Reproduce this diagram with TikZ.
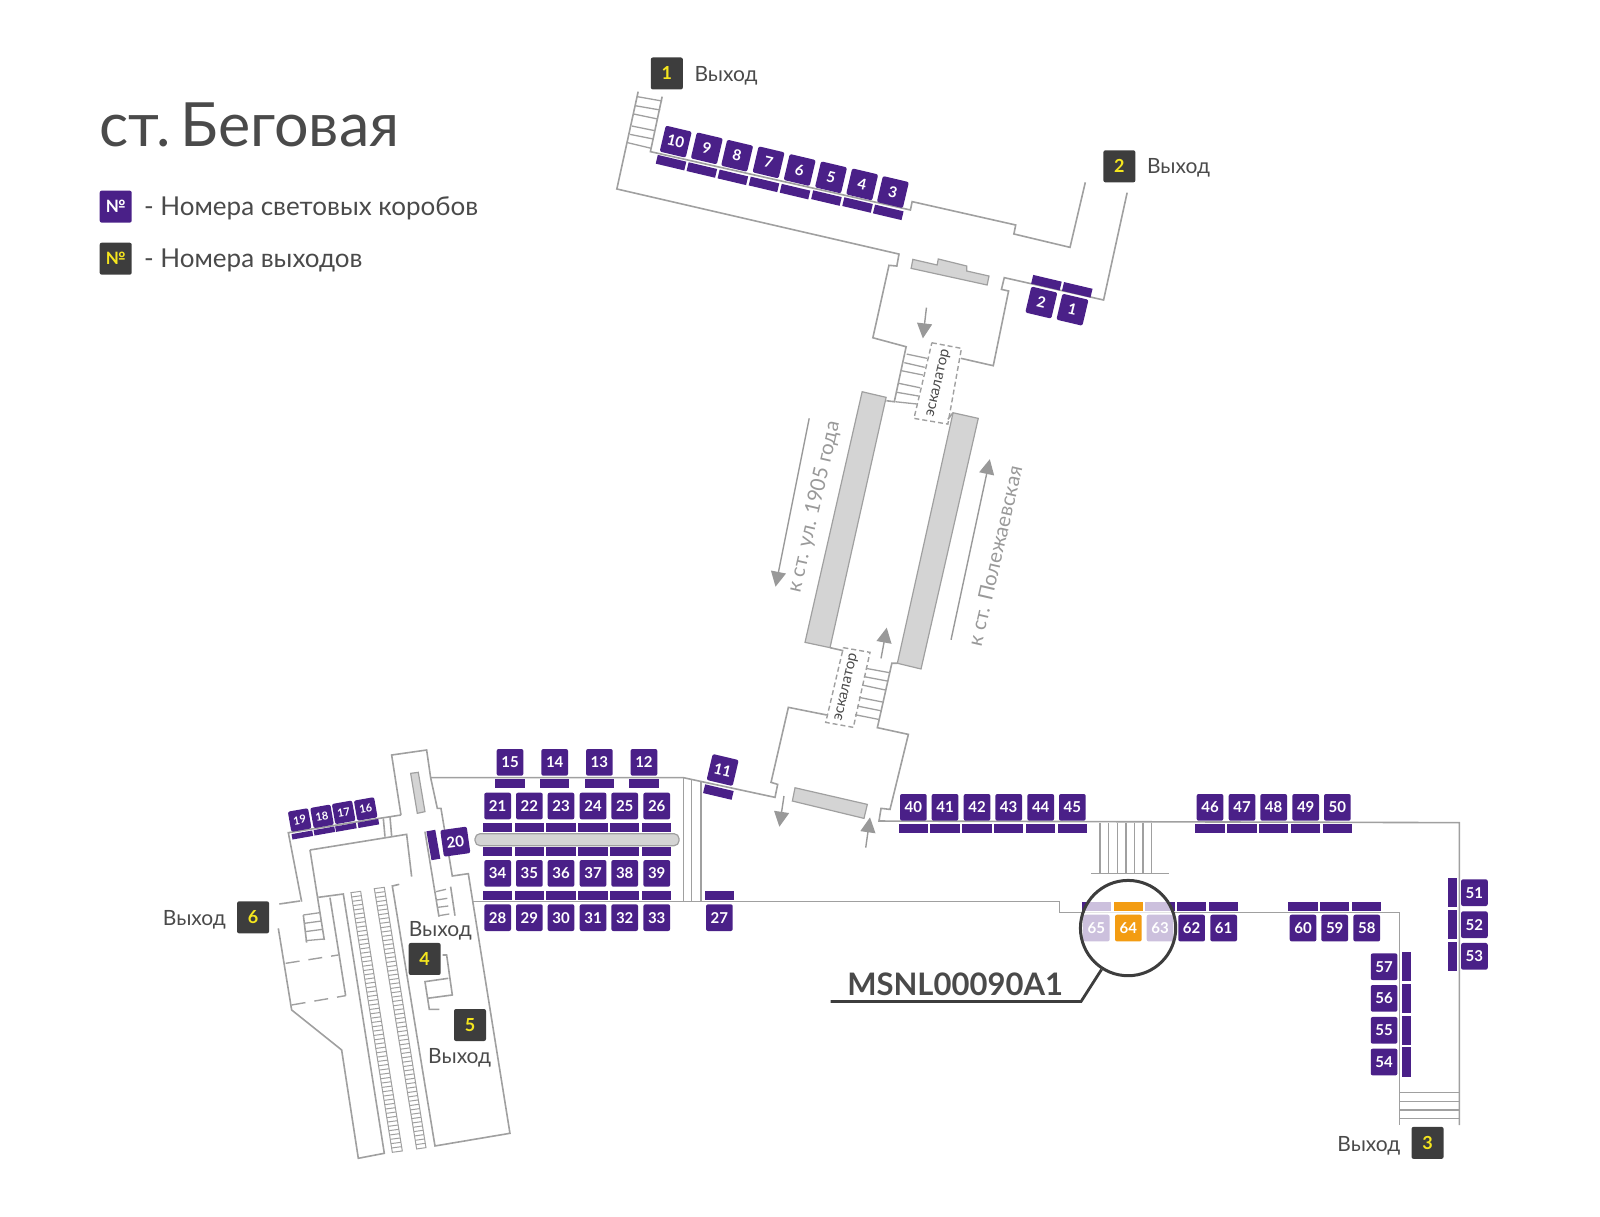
\documentclass[tikz,border=0pt]{standalone}
\usepackage{fontspec}
\setmainfont{Lato}
\usetikzlibrary{arrows.meta,calc}
\definecolor{boxpurple}{HTML}{4A2088}
\definecolor{boxorange}{HTML}{F39C12}
\definecolor{exitdark}{HTML}{3D3D3D}
\definecolor{exityellow}{HTML}{F5E61E}
\definecolor{wallgray}{HTML}{A0A0A0}
\definecolor{pillargray}{HTML}{D4D4D4}
\definecolor{labelgray}{HTML}{999999}
\definecolor{textgray}{HTML}{4A4A4A}
\tikzset{
    wall/.style      = {draw = wallgray, line width = 1.6pt, line join = miter},
    stairline/.style = {draw = wallgray, line width = 1.3pt},
    rung/.style      = {draw = wallgray, line width = 1pt},
    pillar/.style    = {draw = wallgray, fill = pillargray, line width = 1.2pt},
    dashwall/.style  = {draw = wallgray, line width = 1.4pt, dash pattern = on 5pt off 3pt},
    lightbox/.style  = {fill = boxpurple, text = white, rounded corners = 2pt, inner sep = 0pt,
                        minimum width = 26.7pt, minimum height = 26.7pt,
                        font = \fontsize{15}{15}\selectfont\bfseries},
    smallbox/.style  = {lightbox, minimum width = 20.5pt, minimum height = 20.5pt,
                        font = \fontsize{11}{11}\selectfont\bfseries},
    hbar/.style      = {fill = boxpurple, inner sep = 0pt, minimum width = 29.3pt, minimum height = 9pt},
    vbar/.style      = {fill = boxpurple, inner sep = 0pt, minimum width = 9pt, minimum height = 29.3pt},
    exitbox/.style   = {fill = exitdark, text = exityellow, rounded corners = 2pt, inner sep = 0pt,
                        minimum width = 32pt, minimum height = 32pt,
                        font = \fontsize{18}{18}\selectfont\bfseries},
    exitname/.style  = {text = textgray, inner sep = 0pt, font = \fontsize{21}{21}\selectfont},
    legendname/.style= {text = textgray, inner sep = 0pt, anchor = west, font = \fontsize{26}{26}\selectfont},
    dirname/.style   = {text = labelgray, inner sep = 0pt, rotate = 77, font = \fontsize{20.5}{21}\selectfont},
    escname/.style   = {text = textgray, inner sep = 0pt, rotate = 77, font = \fontsize{15}{15}\selectfont},
    dirarrow/.style  = {draw = labelgray, line width = 1.4pt, -{Triangle[length = 15pt, width = 15pt]}}
}
\begin{document}
\begin{tikzpicture}[x = 1.0204pt, y = -1.0204pt]
    \useasboundingbox (0,0) rectangle (1568,1191.7);

    % header
    \node [text = textgray, inner sep = 0pt, anchor = west, font = \fontsize{61}{61}\selectfont] (title) at (97,122) {ст.\kern-6pt\ Беговая};
    \node [exitbox, fill = boxpurple, text = white, font = \fontsize{17}{17}\selectfont\bfseries] (legendbox) at (113.4,202.5) {№};
    \node [exitbox, font = \fontsize{17}{17}\selectfont\bfseries] (legendexit) at (113.4,253.5) {№};
    \node [legendname] (legendboxname) at (141,204.5) {- Номера световых коробов};
    \node [legendname] (legendexitname) at (141,255.5) {- Номера выходов};

    % upper hall
    \draw [wall] (625.4,89.8) -- (604.5,185.2) -- (881,249) -- (878.9,260.7) -- (871.2,260) -- (855.4,331) -- (888,339.8) -- (876.4,393.7) -- (868.7,392.7);
    \draw [wall] (648.9,94.7) -- (637.4,148.6) -- (892.2,205.8) -- (893.9,197.6) -- (995.4,220.5) -- (993.6,229.3) -- (1048.6,242.4) -- (1063.6,178.7);
    \draw [wall] (1104.6,188.8) -- (1081.5,294) -- (984.2,272.1) -- (981.4,283.6) -- (988.4,285.2) -- (973.4,358.4) -- (941.9,351.2);
    \draw [stairline] (624.4,94.7)  -- (648.9,99);
    \draw [stairline] (622.6,103.6) -- (647,107.8);
    \draw [stairline] (620.9,111.7) -- (644.4,116.6);
    \draw [stairline] (619.2,123.5) -- (641.9,128.1);
    \draw [stairline] (617.4,131.7) -- (640.2,136.2);
    \draw [stairline] (615,139.8)   -- (638.4,145.4);
    \draw [pillar] (894.6,254.2) -- (918.4,259.7) -- (919.5,253.8) -- (947.5,260.7) -- (947.5,265.6) -- (969.2,270.5) -- (967.4,279.3) -- (892.9,263) -- cycle;

    % upper escalator
    \draw [stairline] (888.6,347)   -- (908.6,351.2);
    \draw [stairline] (886.2,355.4) -- (906.2,360);
    \draw [stairline] (883.4,363.3) -- (904.4,367.5);
    \draw [stairline] (881,375.7)   -- (901.6,380);
    \draw [stairline] (879.2,384.5) -- (900.2,388.1);
    \draw [stairline] (877.5,393.7) -- (899.2,396);
    \draw [dashwall] (913.2,335.9) -- (942.2,341.4) -- (928.9,415.6) -- (895.7,410) -- cycle;
    \node [escname] (escupper) at (920,375.7) {эскалатор};

    % platform
    \draw [pillar] (844.9,383.9) -- (868.4,389.4) -- (813.4,634.7) -- (788.9,629.5) -- cycle;
    \draw [pillar] (934,404.5) -- (958.7,410) -- (902.6,655.6) -- (879.4,650) -- cycle;
    \draw [wall] (813.4,634.7) -- (826.5,637.7);
    \draw [wall] (928.9,411) -- (934,404.5);

    % lower escalator
    \draw [stairline] (848.7,655)   -- (871.6,659.2);
    \draw [stairline] (846.7,663.1) -- (869.6,667.4);
    \draw [stairline] (844.8,671.3) -- (867.6,676.2);
    \draw [stairline] (841.8,683.4) -- (865,688);
    \draw [stairline] (840.2,691.9) -- (863.1,696.5);
    \draw [stairline] (837.9,700.4) -- (861.1,705);
    \draw [dashwall] (826.5,634.7) -- (852.6,639.3) -- (836.3,712.8) -- (809.2,707.9) -- cycle;
    \node [escname] (esclower) at (829.8,673.6) {эскалатор};

    % lower hall and corridors
    \draw [wall] (879.4,650) -- (874,650) -- (859.8,713.1) -- (890.2,719.7) -- (872.2,793.2) -- (863.4,792.2) -- (861.4,804.6) -- (1430.2,806.2) -- (1430.2,1102.5);
    \draw [wall] (810.2,700.7) -- (772.6,693.2) -- (755.6,766.7) -- (762.1,768.7) -- (759.5,781.4) -- (669.7,762.1) -- (421.4,762.1);
    \draw [wall] (463,883.6) -- (1038.2,883.6) -- (1038.2,894.1) -- (1371.4,894.1) -- (1371.4,1102.5);
    \draw [wall] (669.7,762.1) -- (669.7,883.6);
    \draw [wall] (677.8,764.4) -- (677.8,883.6);
    \draw [wall] (686.7,766.5) -- (686.7,883.6);
    \draw [pillar] (779.1,772) -- (850,788.3) -- (846.7,802) -- (776.5,785) -- cycle;
    \node [pillar, rounded corners = 5pt, inner sep = 0pt, minimum width = 204pt, minimum height = 12pt] (bench) at (565.5,822.9) {};

    % stairs to the street
    \draw [stairline] (1078,806.2)   -- (1078,855.9);
    \draw [stairline] (1086.5,806.2) -- (1086.5,855.9);
    \draw [stairline] (1095,806.2)   -- (1095,855.9);
    \draw [stairline] (1103.5,806.2) -- (1103.5,855.9);
    \draw [stairline] (1112,806.2)   -- (1112,855.9);
    \draw [stairline] (1120.2,806.2) -- (1120.2,855.9);
    \draw [stairline] (1128.6,806.2) -- (1128.6,855.9);
    \draw [stairline] (1069.2,855.9) -- (1146,855.9);
    \draw [stairline] (1371.4,1070.8) -- (1430.2,1070.8);
    \draw [stairline] (1371.4,1079.3) -- (1430.2,1079.3);
    \draw [stairline] (1371.4,1087.8) -- (1430.2,1087.8);
    \draw [stairline] (1371.4,1096.3) -- (1430.2,1096.3);

    % west vestibule, in its own grid
    \begin{scope}[shift = {(137.2,705.6)}, x = 0.3333pt, y = -0.3333pt]
        \draw [wall] (783,285) -- (755,105) -- (860,90) -- (872,173) -- (892,265) -- (903,265) -- (937,468) -- (985,461) -- (1110,1240) -- (885,1278) -- (757,498) -- (778,493);
        \draw [wall] (783,285) -- (445,338) -- (485,545);
        \draw [wall] (490,585) -- (500,668);
        \draw [wall] (418,552) -- (480,543);
        \draw [wall] (510,390) -- (800,343) -- (815,470);
        \draw [wall] (510,390) -- (553,660);
        \draw [wall] (535,532) -- (610,522) -- (733,1300) -- (655,1315) -- (605,990) -- (455,870) -- (415,625);
        \draw [wall] (570,533) -- (617,827);
        \draw [dashwall, dash pattern = on 14pt off 9pt] (437,730) -- (595,705);
        \draw [dashwall, dash pattern = on 14pt off 9pt] (455,855) -- (617,827);
        \draw [wall] (730,295) -- (735,350);
        \draw [wall] (750,290) -- (755,348);
        \draw [stairline] (490,585) -- (540,578);
        \draw [stairline] (493,610) -- (545,603);
        \draw [stairline] (495,635) -- (548,628);
        \draw [stairline] (497,662) -- (553,657);
        \draw [wall] (855,335) -- (897,590);
        \draw [wall] (932,500) -- (945,587);
        \draw [stairline] (888,515) -- (918,508);
        \draw [stairline] (890,540) -- (922,535);
        \draw [stairline] (893,562) -- (925,558);
        \draw [stairline] (897,587) -- (928,582);
        \draw [wall] (908,705) -- (920,705) -- (937,825) -- (862,835);
        \draw [wall] (925,775) -- (855,785) -- (868,868) -- (898,868);
        \draw [pillar] (812,160) -- (835,157) -- (855,275) -- (832,280) -- cycle;
        \coordinate (trackaa) at (633,518);
        \coordinate (trackab) at (662,514);
        \coordinate (trackac) at (757,1297);
        \coordinate (trackad) at (787,1293);
        \coordinate (trackba) at (703,506);
        \coordinate (trackbb) at (733,502);
        \coordinate (trackbc) at (830,1287);
        \coordinate (trackbd) at (858,1283);
        \draw [rung] (trackaa) -- (trackab) -- (trackad) -- (trackac) -- cycle;
        \draw [rung] (trackba) -- (trackbb) -- (trackbd) -- (trackbc) -- cycle;
        \foreach \k in {1,...,59} {
            \draw [rung] ($(trackaa)!\k/60!(trackac)$) -- ($(trackab)!\k/60!(trackad)$);
            \draw [rung] ($(trackba)!\k/60!(trackbc)$) -- ($(trackbb)!\k/60!(trackbd)$);
        }
    \end{scope}

    % travel arrows
    \coordinate (arrhallfrom) at (907.9,301.5);
    \coordinate (arrhallto)   at (904.4,331.6);
    \coordinate (arrupfrom)   at (863.4,645.2);
    \coordinate (arrupto)     at (869,615.1);
    \coordinate (arroutfrom)  at (768.3,780.1);
    \coordinate (arroutto)    at (763.8,810.2);
    \coordinate (arrinfrom)   at (848.4,830.7);
    \coordinate (arrinto)     at (852.6,801);
    \coordinate (arrwestfrom) at (793,410);
    \coordinate (arrwestto)   at (760,575);
    \coordinate (arreastfrom) at (932,627);
    \coordinate (arreastto)   at (970,450);
    \draw [dirarrow] (arrhallfrom) -- (arrhallto);
    \draw [dirarrow] (arrupfrom)   -- (arrupto);
    \draw [dirarrow] (arroutfrom)  -- (arroutto);
    \draw [dirarrow] (arrinfrom)   -- (arrinto);
    \draw [dirarrow] (arrwestfrom) -- (arrwestto);
    \draw [dirarrow] (arreastfrom) -- (arreastto);
    \node [dirname] (dirwest) at (798,497) {к ст. ул. 1905 года};
    \node [dirname] (direast) at (975,545) {к ст. Полежаевская};

    % strips of the light boxes
    \node [hbar, rotate = -13.3] (s10) at (657.6,159.4) {};
    \node [hbar, rotate = -13.3] (s9)  at (687.8,166.6) {};
    \node [hbar, rotate = -13.3] (s8)  at (718.2,173.8) {};
    \node [hbar, rotate = -13.3] (s7)  at (748.7,180.7) {};
    \node [hbar, rotate = -13.3] (s6)  at (779.1,187.8) {};
    \node [hbar, rotate = -13.3] (s5)  at (809.9,194.1) {};
    \node [hbar, rotate = -13.3] (s4)  at (840.4,200.9) {};
    \node [hbar, rotate = -13.3] (s3)  at (870.5,208.1) {};
    \node [hbar, rotate = -13.3] (s2)  at (1025.5,277) {};
    \node [hbar, rotate = -13.3] (s1)  at (1055.7,284) {};
    \node [hbar, rotate = -13.3] (s11) at (704,776.2) {};
    \node [hbar] (s12) at (631.1,768) {};
    \node [hbar] (s13) at (587.4,768) {};
    \node [hbar] (s14) at (543.6,768) {};
    \node [hbar] (s15) at (499.8,768) {};
    \node [hbar, rotate = 10, minimum width = 21pt, minimum height = 5.5pt] (s16) at (361,807) {};
    \node [hbar, rotate = 10, minimum width = 21pt, minimum height = 5.5pt] (s17) at (339,810.8) {};
    \node [hbar, rotate = 10, minimum width = 21pt, minimum height = 5.5pt] (s18) at (317.9,814.4) {};
    \node [hbar, rotate = 10, minimum width = 21pt, minimum height = 5.5pt] (s19) at (296.3,818.3) {};
    \node [vbar, rotate = 10] (s20) at (424.7,828.1) {};
    \node [hbar] (s21) at (487.7,811.1) {};
    \node [hbar] (s22) at (518.8,811.1) {};
    \node [hbar] (s23) at (549.8,811.1) {};
    \node [hbar] (s24) at (581.2,811.1) {};
    \node [hbar] (s25) at (612.2,811.1) {};
    \node [hbar] (s26) at (643.6,811.1) {};
    \node [hbar] (s27) at (705,877.8) {};
    \node [hbar] (s28) at (487.7,877.8) {};
    \node [hbar] (s29) at (518.8,877.8) {};
    \node [hbar] (s30) at (549.8,877.8) {};
    \node [hbar] (s31) at (581.2,877.8) {};
    \node [hbar] (s32) at (612.2,877.8) {};
    \node [hbar] (s33) at (643.6,877.8) {};
    \node [hbar] (s34) at (487.7,834.6) {};
    \node [hbar] (s35) at (518.8,834.6) {};
    \node [hbar] (s36) at (549.8,834.6) {};
    \node [hbar] (s37) at (581.2,834.6) {};
    \node [hbar] (s38) at (612.2,834.6) {};
    \node [hbar] (s39) at (643.6,834.6) {};
    \node [hbar] (s40) at (895.1,812.1) {};
    \node [hbar] (s41) at (926.1,812.1) {};
    \node [hbar] (s42) at (957.5,812.1) {};
    \node [hbar] (s43) at (988.5,812.1) {};
    \node [hbar] (s44) at (1019.9,812.1) {};
    \node [hbar] (s45) at (1050.9,812.1) {};
    \node [hbar] (s46) at (1185.8,812.1) {};
    \node [hbar] (s47) at (1217.2,812.1) {};
    \node [hbar] (s48) at (1248.2,812.1) {};
    \node [hbar] (s49) at (1279.6,812.1) {};
    \node [hbar] (s50) at (1310.6,812.1) {};
    \node [vbar] (s51) at (1423.6,874.8) {};
    \node [vbar] (s52) at (1423.6,906.2) {};
    \node [vbar] (s53) at (1423.6,937.2) {};
    \node [vbar] (s54) at (1377.9,1040.8) {};
    \node [vbar] (s55) at (1377.9,1009.7) {};
    \node [vbar] (s56) at (1377.9,978.4) {};
    \node [vbar] (s57) at (1377.9,947.4) {};
    \node [hbar] (s58) at (1339.4,887.9) {};
    \node [hbar] (s59) at (1308,887.9) {};
    \node [hbar] (s60) at (1277,887.9) {};
    \node [hbar] (s61) at (1199.2,887.9) {};
    \node [hbar] (s62) at (1167.8,887.9) {};
    \node [hbar] (s63) at (1136.8,887.9) {};
    \node [hbar] (s65) at (1074.4,887.9) {};

    % light boxes
    \node [lightbox, rotate = -13.3] (b1)  at (1051,303.5) {1};
    \node [lightbox, rotate = -13.3] (b2)  at (1020.5,296.5) {2};
    \node [lightbox, rotate = -13.3] (b3)  at (875,188.2) {3};
    \node [lightbox, rotate = -13.3] (b4)  at (844.9,180.7) {4};
    \node [lightbox, rotate = -13.3] (b5)  at (814.4,173.8) {5};
    \node [lightbox, rotate = -13.3] (b6)  at (783.7,166.6) {6};
    \node [lightbox, rotate = -13.3] (b7)  at (753.2,159.1) {7};
    \node [lightbox, rotate = -13.3] (b8)  at (722.4,152.6) {8};
    \node [lightbox, rotate = -13.3] (b9)  at (692.7,145.4) {9};
    \node [lightbox, rotate = -13.3] (b10) at (662.2,138.8) {10};
    \node [lightbox, rotate = -13.3] (b11) at (708.2,754.6) {11};
    \node [lightbox] (b12) at (631.1,747.1) {12};
    \node [lightbox] (b13) at (587.4,747.1) {13};
    \node [lightbox] (b14) at (543.6,747.1) {14};
    \node [lightbox] (b15) at (499.8,747.1) {15};
    \node [smallbox, rotate = 10] (b16) at (358.4,792.8) {16};
    \node [smallbox, rotate = 10] (b17) at (336.8,796.1) {17};
    \node [smallbox, rotate = 10] (b18) at (315.6,800) {18};
    \node [smallbox, rotate = 10] (b19) at (293.7,803.6) {19};
    \node [lightbox, rotate = 8] (b20) at (446.2,824.8) {20};
    \node [lightbox] (b21) at (487.7,789.9) {21};
    \node [lightbox] (b22) at (518.8,789.9) {22};
    \node [lightbox] (b23) at (549.8,789.9) {23};
    \node [lightbox] (b24) at (581.2,789.9) {24};
    \node [lightbox] (b25) at (612.2,789.9) {25};
    \node [lightbox] (b26) at (643.6,789.9) {26};
    \node [lightbox] (b27) at (705,899.3) {27};
    \node [lightbox] (b28) at (487.7,899.3) {28};
    \node [lightbox] (b29) at (518.8,899.3) {29};
    \node [lightbox] (b30) at (549.8,899.3) {30};
    \node [lightbox] (b31) at (581.2,899.3) {31};
    \node [lightbox] (b32) at (612.2,899.3) {32};
    \node [lightbox] (b33) at (643.6,899.3) {33};
    \node [lightbox] (b34) at (487.7,855.9) {34};
    \node [lightbox] (b35) at (518.8,855.9) {35};
    \node [lightbox] (b36) at (549.8,855.9) {36};
    \node [lightbox] (b37) at (581.2,855.9) {37};
    \node [lightbox] (b38) at (612.2,855.9) {38};
    \node [lightbox] (b39) at (643.6,855.9) {39};
    \node [lightbox] (b40) at (895.1,791.2) {40};
    \node [lightbox] (b41) at (926.1,791.2) {41};
    \node [lightbox] (b42) at (957.5,791.2) {42};
    \node [lightbox] (b43) at (988.5,791.2) {43};
    \node [lightbox] (b44) at (1019.9,791.2) {44};
    \node [lightbox] (b45) at (1050.9,791.2) {45};
    \node [lightbox] (b46) at (1185.8,791.2) {46};
    \node [lightbox] (b47) at (1217.2,791.2) {47};
    \node [lightbox] (b48) at (1248.2,791.2) {48};
    \node [lightbox] (b49) at (1279.6,791.2) {49};
    \node [lightbox] (b50) at (1310.6,791.2) {50};
    \node [lightbox] (b51) at (1444.9,874.8) {51};
    \node [lightbox] (b52) at (1444.9,906.2) {52};
    \node [lightbox] (b53) at (1444.9,937.2) {53};
    \node [lightbox] (b54) at (1356.4,1040.8) {54};
    \node [lightbox] (b55) at (1356.4,1009.7) {55};
    \node [lightbox] (b56) at (1356.4,978.4) {56};
    \node [lightbox] (b57) at (1356.4,947.4) {57};
    \node [lightbox] (b58) at (1339.4,909.5) {58};
    \node [lightbox] (b59) at (1308,909.5) {59};
    \node [lightbox] (b60) at (1277,909.5) {60};
    \node [lightbox] (b61) at (1199.2,909.5) {61};
    \node [lightbox] (b62) at (1167.8,909.5) {62};
    \node [lightbox] (b63) at (1136.8,909.5) {63};
    \node [lightbox] (b65) at (1074.4,909.5) {65};

    % lens over the chosen box
    \node [circle, draw = exitdark, line width = 3pt, fill = white, fill opacity = 0.72, draw opacity = 1,
           inner sep = 0pt, minimum size = 95.3pt] (lens) at (1105.5,909.5) {};
    \node [hbar, fill = boxorange] (s64) at (1105.8,887.9) {};
    \node [lightbox, fill = boxorange] (b64) at (1105.8,909.5) {64};
    \coordinate (leadbend) at (1059.4,981.5);
    \coordinate (leadend)  at (814,981.5);
    \draw [draw = exitdark, line width = 2.8pt] (lens) -- (leadbend) -- (leadend);
    \node [text = textgray, inner sep = 0pt, font = \fontsize{31}{31}\selectfont\bfseries] (code) at (936,965) {MSNL00090A1};

    % exits
    \node [exitbox] (ex1) at (653.5,72) {1};
    \node [exitbox] (ex2) at (1097,163) {2};
    \node [exitbox] (ex3) at (1399,1120) {3};
    \node [exitbox] (ex4) at (416.2,939.8) {4};
    \node [exitbox] (ex5) at (460.6,1004.5) {5};
    \node [exitbox] (ex6) at (248,899) {6};
    \node [exitname] (exname1) at (711.5,74.5) {Выход};
    \node [exitname] (exname2) at (1155,164.5) {Выход};
    \node [exitname] (exname3) at (1341.5,1122.5) {Выход};
    \node [exitname] (exname4) at (431.5,912.5) {Выход};
    \node [exitname] (exname5) at (450.5,1036.5) {Выход};
    \node [exitname] (exname6) at (190.5,901.5) {Выход};
\end{tikzpicture}
\end{document}
